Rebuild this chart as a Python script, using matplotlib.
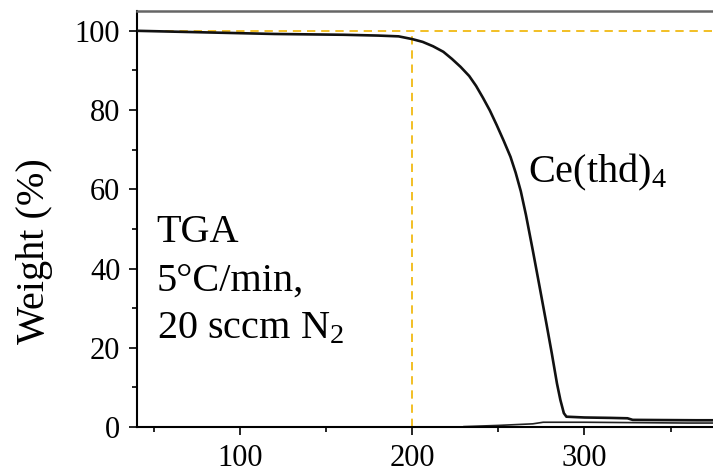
#!/usr/bin/env python3
"""TGA curve of Ce(thd)4 -- weight loss vs temperature."""

import matplotlib
matplotlib.use('Agg')
import matplotlib.pyplot as plt
from matplotlib.ticker import MultipleLocator

plt.rcParams.update({
    'font.family': 'Liberation Serif',
    'mathtext.fontset': 'custom',
    'mathtext.rm': 'Liberation Serif',
    'mathtext.it': 'Liberation Serif:italic',
    'axes.unicode_minus': False,
})

# Data
temp = [40, 60, 80, 100, 120, 140, 160, 180, 192, 200, 206, 212, 218, 223,
        228, 233, 237, 241, 245, 249, 253, 257, 260, 263, 266, 270, 274,
        278, 281, 284, 286, 288, 289.5, 300, 315, 325, 328, 345, 365, 395]
weight = [100, 99.8, 99.6, 99.4, 99.2, 99.1, 99.0, 98.8, 98.6, 97.9, 97.2,
          96.1, 94.7, 92.9, 90.9, 88.6, 86.1, 83.1, 79.9, 76.2, 72.3, 68.2,
          64.2, 59.5, 53.5, 44.5, 35.2, 25.8, 18.6, 11.0, 6.8, 3.5, 2.6,
          2.4, 2.3, 2.2, 1.8, 1.75, 1.7, 1.7]

# faint second trace near the baseline
temp_low = [230, 250, 270, 276, 300, 330, 360, 395]
weight_low = [0.1, 0.4, 0.8, 1.2, 1.2, 1.1, 1.0, 1.0]

ONSET_T = 200
FULL = 100
GUIDE = '#F0B400'

fig = plt.figure(figsize=(7.13, 4.76), dpi=100)
# axes run past the right edge: the original figure is cropped there
ax = fig.add_axes([137 / 713, 49 / 476, 611 / 713, 416 / 476])

ax.axhline(FULL, color=GUIDE, lw=1.2, ls=(0, (5, 3.5)), zorder=1)
ax.vlines(ONSET_T, 0, FULL, color=GUIDE, lw=1.2, ls=(0, (5, 3.5)), zorder=1)

ax.plot(temp_low, weight_low, color='#222222', lw=1.2, zorder=2)
ax.plot(temp, weight, color='#111111', lw=1.9, zorder=3)

ax.set_xlim(40, 395)
ax.set_ylim(0, 105)
ax.xaxis.set_major_locator(MultipleLocator(100))
ax.xaxis.set_minor_locator(MultipleLocator(50))
ax.yaxis.set_major_locator(MultipleLocator(20))
ax.yaxis.set_minor_locator(MultipleLocator(10))
ax.tick_params(which='both', direction='out', width=1.2, labelsize=22,
               top=False, right=False)
ax.tick_params(which='major', length=6, pad=6)
ax.tick_params(which='minor', length=3.5)

for side in ('left', 'bottom'):
    ax.spines[side].set_linewidth(1.5)
    ax.spines[side].set_color('black')
ax.spines['top'].set_linewidth(1.8)
ax.spines['top'].set_color('#666666')
ax.spines['right'].set_visible(False)

ax.set_ylabel('Weight (%)', fontsize=29)
ax.yaxis.label.set_va('center')
ax.yaxis.set_label_coords(-0.167, 0.423)

# annotations
ax.text(51.5, 46.6, 'TGA', fontsize=29)
ax.text(51.5, 34.5, '5°C/min,', fontsize=29)
ax.text(51.5, 22.4, '20 sccm N$_2$', fontsize=29)
ax.text(267, 61.7, 'Ce(thd)$_4$', fontsize=29)

fig.savefig('out.png', dpi=100)
plt.close(fig)
